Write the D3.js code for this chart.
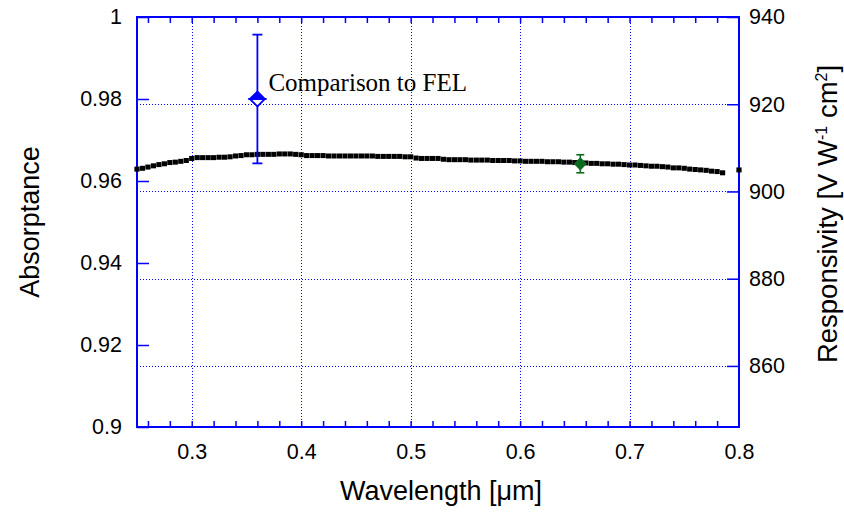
<!DOCTYPE html>
<html>
<head>
<meta charset="utf-8">
<script src="https://cdn.jsdelivr.net/npm/d3@7"></script>
<style>
  html, body { margin: 0; padding: 0; background: #fff; }
  svg { display: block; }
</style>
</head>
<body>
<svg id="chart" width="844" height="512"></svg>
<script>
// ---- data ----
const wavelength = [
  0.250,0.255,0.260,0.265,0.270,0.275,0.280,0.285,0.290,0.295,
  0.300,0.305,0.310,0.315,0.320,0.325,0.330,0.335,0.340,0.345,
  0.350,0.355,0.360,0.365,0.370,0.375,0.380,0.385,0.390,0.395,
  0.400,0.405,0.410,0.415,0.420,0.425,0.430,0.435,0.440,0.445,
  0.450,0.455,0.460,0.465,0.470,0.475,0.480,0.485,0.490,0.495,
  0.500,0.505,0.510,0.515,0.520,0.525,0.530,0.535,0.540,0.545,
  0.550,0.555,0.560,0.565,0.570,0.575,0.580,0.585,0.590,0.595,
  0.600,0.605,0.610,0.615,0.620,0.625,0.630,0.635,0.640,0.645,
  0.650,0.655,0.660,0.665,0.670,0.675,0.680,0.685,0.690,0.695,
  0.700,0.705,0.710,0.715,0.720,0.725,0.730,0.735,0.740,0.745,
  0.750,0.755,0.760,0.765,0.770,0.775,0.780,0.785,0.800
];
const absorptance = [
  0.9629,0.9631,0.9634,0.9637,0.9640,0.9642,0.9645,0.9646,0.9648,0.9650,
  0.9655,0.9657,0.9657,0.9657,0.9657,0.9658,0.9658,0.9659,0.9661,0.9662,
  0.9664,0.9664,0.9665,0.9665,0.9665,0.9665,0.9666,0.9666,0.9666,0.9665,
  0.9664,0.9662,0.9662,0.9662,0.9662,0.9661,0.9661,0.9661,0.9661,0.9661,
  0.9661,0.9661,0.9661,0.9661,0.9660,0.9660,0.9660,0.9660,0.9660,0.9659,
  0.9659,0.9656,0.9655,0.9655,0.9655,0.9655,0.9653,0.9652,0.9652,0.9652,
  0.9652,0.9651,0.9651,0.9651,0.9651,0.9650,0.9650,0.9650,0.9650,0.9649,
  0.9649,0.9648,0.9648,0.9648,0.9648,0.9647,0.9647,0.9647,0.9646,0.9646,
  0.9645,0.9645,0.9644,0.9643,0.9643,0.9642,0.9642,0.9641,0.9641,0.9640,
  0.9639,0.9639,0.9638,0.9637,0.9636,0.9636,0.9635,0.9634,0.9632,0.9632,
  0.9631,0.9629,0.9628,0.9627,0.9626,0.9624,0.9623,0.9620,0.9627
];
// Comparison to FEL point (blue) and single measurement (green)
const felPoint = { wavelength: 0.36, value: 0.980, err: 0.0157 };
const greenPoint = { wavelength: 0.655, value: 0.9642, err: 0.0022 };
const felLabel = "Comparison to FEL";

const xTicks = [0.3, 0.4, 0.5, 0.6, 0.7, 0.8];
const xMinorTicks = [0.26,0.28,0.30,0.32,0.34,0.36,0.38,0.40,0.42,0.44,0.46,0.48,0.50,0.52,0.54,0.56,0.58,0.60,0.62,0.64,0.66,0.68,0.70,0.72,0.74,0.76,0.78];
const xGrid = [0.3, 0.4, 0.5, 0.6, 0.7];
const yLeftTicks = [0.9, 0.92, 0.94, 0.96, 0.98, 1];
const yRightTicks = [860, 880, 900, 920, 940];
const yRightGrid = [860, 880, 900, 920];
const xDomain = [0.25, 0.8];
const yLeftDomain = [0.9, 1.0];
const yRightDomain = [846, 940];

// ---- layout ----
const L = 137, R = 739, T = 17, B = 427;
const blue = "#0000ff";
const svg = d3.select("#chart");

const x = d3.scaleLinear().domain(xDomain).range([L, R]);
const y = d3.scaleLinear().domain(yLeftDomain).range([B, T]);
const y2 = d3.scaleLinear().domain(yRightDomain).range([B, T]);

// grid
const grid = svg.append("g").attr("stroke", blue).attr("stroke-width", 1)
  .attr("stroke-dasharray", "1,2").attr("fill", "none");
grid.selectAll("line.v").data(xGrid).join("line").attr("class", "v")
  .attr("x1", d => Math.round(x(d)) + 0.5).attr("x2", d => Math.round(x(d)) + 0.5)
  .attr("y1", T).attr("y2", B);
grid.selectAll("line.h").data(yRightGrid).join("line").attr("class", "h")
  .attr("y1", d => Math.round(y2(d)) + 0.5).attr("y2", d => Math.round(y2(d)) + 0.5)
  .attr("x1", L).attr("x2", R);

// axes using d3 axis generators
const font = "'Liberation Sans', Arial, sans-serif";
function styleAxis(g) {
  g.selectAll(".domain").remove();
  g.selectAll("line").attr("stroke", blue).attr("stroke-width", 1.5);
  g.selectAll("text").attr("fill", "#000").style("font-family", font).style("font-size", "21.5px");
}
// bottom: labels
svg.append("g").attr("transform", `translate(0,${B})`)
  .call(d3.axisBottom(x).tickValues(xTicks).tickSize(0).tickPadding(17).tickFormat(d3.format(".1f")))
  .call(styleAxis);
// bottom minor ticks (inward)
svg.append("g").attr("transform", `translate(0,${B})`)
  .call(d3.axisTop(x).tickValues(xMinorTicks).tickSize(6).tickFormat(""))
  .call(styleAxis);
// top minor ticks (inward)
svg.append("g").attr("transform", `translate(0,${T})`)
  .call(d3.axisBottom(x).tickValues(xMinorTicks).tickSize(6).tickFormat(""))
  .call(styleAxis);
// left axis
svg.append("g").attr("transform", `translate(${L},0)`)
  .call(d3.axisRight(y).tickValues(yLeftTicks).tickSize(12).tickFormat(""))
  .call(styleAxis);
svg.append("g").attr("transform", `translate(${L},0)`)
  .call(d3.axisLeft(y).tickValues(yLeftTicks).tickSize(0).tickPadding(15).tickFormat(d => d3.format("")(+d.toFixed(2))))
  .call(styleAxis);
// right axis
svg.append("g").attr("transform", `translate(${R},0)`)
  .call(d3.axisLeft(y2).tickValues(yRightTicks).tickSize(12).tickFormat(""))
  .call(styleAxis);
svg.append("g").attr("transform", `translate(${R},0)`)
  .call(d3.axisRight(y2).tickValues(yRightTicks).tickSize(0).tickPadding(10).tickFormat(d3.format("d")))
  .call(styleAxis);

// frame
svg.append("rect").attr("x", L).attr("y", T).attr("width", R - L).attr("height", B - T)
  .attr("fill", "none").attr("stroke", blue).attr("stroke-width", 2);

// data markers
svg.append("g").selectAll("rect").data(wavelength.map((w, i) => [w, absorptance[i]])).join("rect")
  .attr("x", d => x(d[0]) - 2.6).attr("y", d => y(d[1]) - 2.5)
  .attr("width", 5.2).attr("height", 5).attr("fill", "#000");

// FEL comparison point with error bar
(function () {
  const cx = x(felPoint.wavelength), cy = y(felPoint.value);
  const yt = y(felPoint.value + felPoint.err), yb = y(felPoint.value - felPoint.err);
  const g = svg.append("g").attr("stroke", blue).attr("stroke-width", 1.8);
  g.append("line").attr("x1", cx).attr("x2", cx).attr("y1", yt).attr("y2", yb);
  g.append("line").attr("x1", cx - 5).attr("x2", cx + 5).attr("y1", yt).attr("y2", yt);
  g.append("line").attr("x1", cx - 5).attr("x2", cx + 5).attr("y1", yb).attr("y2", yb);
  const h = 7.5;
  g.append("path").attr("d", `M${cx - h},${cy} L${cx},${cy + h} L${cx + h},${cy} Z`).attr("fill", "#fff");
  g.append("path").attr("d", `M${cx - h},${cy} L${cx},${cy - h} L${cx + h},${cy} Z`).attr("fill", blue);
  svg.append("text").attr("x", cx + 11).attr("y", cy - 8)
    .style("font-family", "'Liberation Serif', 'Times New Roman', serif").style("font-size", "25px")
    .attr("fill", "#000").text(felLabel);
})();

// green point
(function () {
  const green = "#0c6b1e";
  const cx = x(greenPoint.wavelength), cy = y(greenPoint.value);
  const yt = y(greenPoint.value + greenPoint.err), yb = y(greenPoint.value - greenPoint.err);
  const g = svg.append("g").attr("stroke", green).attr("stroke-width", 1.6);
  g.append("line").attr("x1", cx).attr("x2", cx).attr("y1", yt).attr("y2", yb);
  g.append("line").attr("x1", cx - 4).attr("x2", cx + 4).attr("y1", yt).attr("y2", yt);
  g.append("line").attr("x1", cx - 4).attr("x2", cx + 4).attr("y1", yb).attr("y2", yb);
  const h = 5.5;
  g.append("path").attr("d", `M${cx - h},${cy} L${cx},${cy - h} L${cx + h},${cy} L${cx},${cy + h} Z`).attr("fill", green);
})();

// axis titles
svg.append("text").attr("x", 441).attr("y", 500).attr("text-anchor", "middle")
  .style("font-family", font).style("font-size", "27px").text("Wavelength [\u03bcm]");
svg.append("text").attr("transform", `translate(39,${(T + B) / 2}) rotate(-90)`).attr("text-anchor", "middle")
  .style("font-family", font).style("font-size", "27px").text("Absorptance");
const rt = svg.append("text").attr("transform", `translate(837,${(T + B) / 2 - 8}) rotate(-90)`).attr("text-anchor", "middle")
  .style("font-family", font).style("font-size", "27.5px");
rt.append("tspan").text("Responsivity [V W");
rt.append("tspan").attr("dy", -10).style("font-size", "16px").text("-1");
rt.append("tspan").attr("dy", 10).text(" cm");
rt.append("tspan").attr("dy", -10).style("font-size", "16px").text("2");
rt.append("tspan").attr("dy", 10).text("]");
</script>
</body>
</html>
